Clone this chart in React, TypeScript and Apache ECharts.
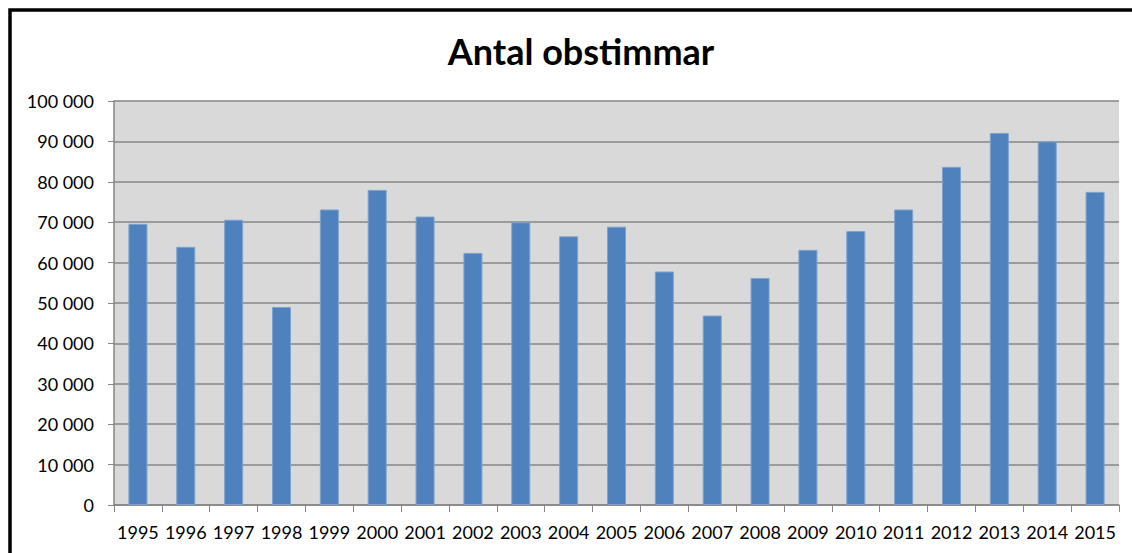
import React, { useEffect, useRef } from "react";
import * as echarts from "echarts";

const years = ["1995","1996","1997","1998","1999","2000","2001","2002","2003","2004","2005","2006","2007","2008","2009","2010","2011","2012","2013","2014","2015"];
const hours = [69600,63900,70600,49000,73150,78000,71400,62400,70000,66500,68900,57800,46900,56200,63150,67800,73150,83700,92100,90000,77500];
const title = "Antal obstimmar";

const fmt = (v: number) => {
  const s = String(Math.round(v));
  return s.replace(/\B(?=(\d{3})+(?!\d))/g, " ");
};

export default function App() {
  const ref = useRef<HTMLDivElement>(null);
  useEffect(() => {
    if (!ref.current) return;
    const chart = echarts.init(ref.current, undefined, { renderer: "svg" });
    const font = "Lato, 'Liberation Sans', Arial, sans-serif";
    chart.setOption({
      animation: false,
      backgroundColor: "#ffffff",
      title: {
        text: title,
        left: 576,
        textAlign: "center",
        top: 28,
        textStyle: { fontFamily: font, fontWeight: "bold", fontSize: 36, color: "#000" },
      },
      graphic: [
        {
          type: "rect",
          shape: { x: 10, y: 10, width: 1300, height: 700 },
          style: { fill: "none", stroke: "#000", lineWidth: 3.5 },
          z: 100,
        },
      ],
      grid: {
        left: 114,
        top: 101,
        right: 13,
        bottom: 48,
        show: true,
        backgroundColor: "#d9d9d9",
        borderWidth: 0,
      },
      xAxis: {
        type: "category",
        data: years,
        axisLine: { show: true, lineStyle: { color: "#868686", width: 1.5 } },
        axisTick: { show: true, length: 7, alignWithLabel: false, lineStyle: { color: "#868686" } },
        axisLabel: { color: "#000", fontFamily: font, fontSize: 18, margin: 18, interval: 0 },
      },
      yAxis: {
        type: "value",
        min: 0,
        max: 100000,
        interval: 10000,
        axisLine: { show: true, lineStyle: { color: "#868686", width: 1.5 } },
        axisTick: { show: true, length: 6, lineStyle: { color: "#868686" } },
        axisLabel: { color: "#000", fontFamily: font, fontSize: 18, margin: 20, formatter: (v: number) => fmt(v) },
        splitLine: { show: true, lineStyle: { color: "#868686", width: 1.5 } },
      },
      series: [
        {
          type: "bar",
          data: hours,
          barWidth: 19,
          itemStyle: { color: "#4f81bd", borderColor: "#7ea2cf", borderWidth: 1 },
        },
      ],
    });
    return () => chart.dispose();
  }, []);
  return <div ref={ref} style={{ position: "fixed", left: 0, top: 0, width: 1132, height: 553 }} />;
}
